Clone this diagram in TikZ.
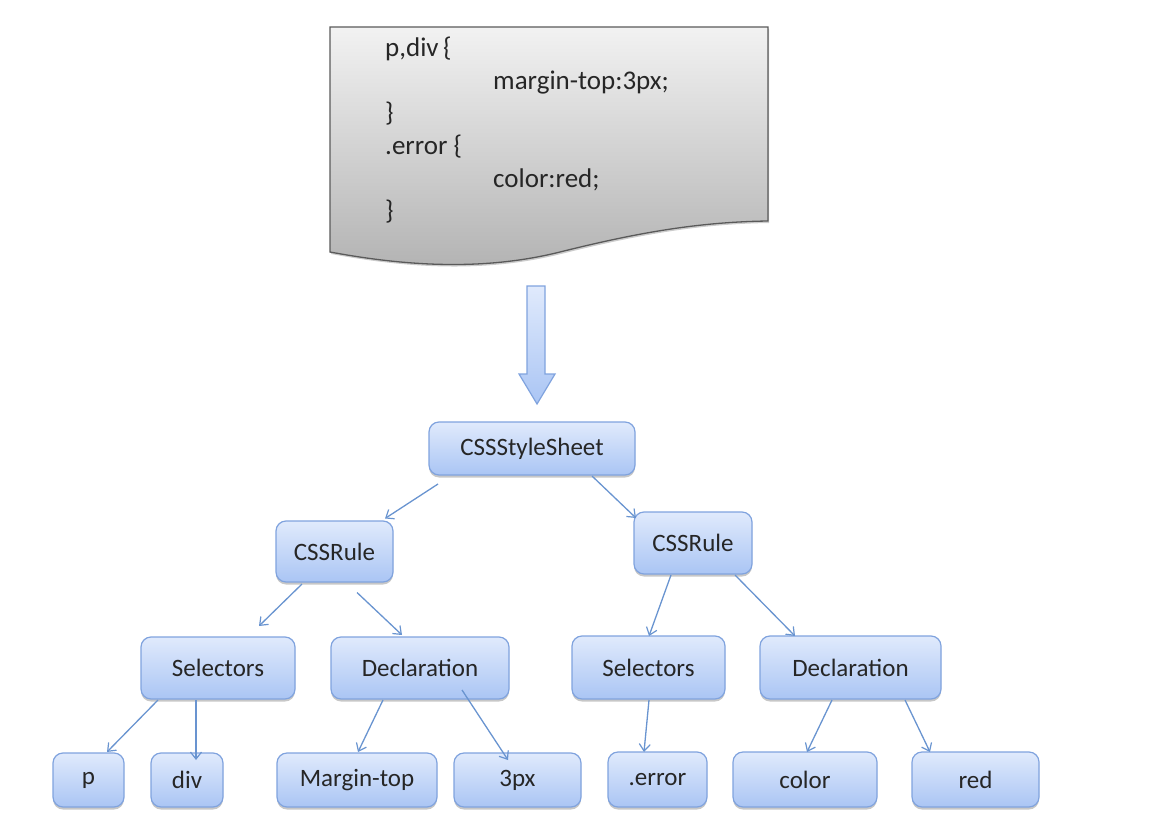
\documentclass[tikz,border=0pt]{standalone}
\usepackage{fontspec}
\setmainfont{Carlito}
\usetikzlibrary{calc,arrows.meta,shadows}

\definecolor{txt}{RGB}{38,38,38}
\definecolor{boxtop}{RGB}{224,234,252}
\definecolor{boxbot}{RGB}{170,197,244}
\definecolor{boxline}{RGB}{128,163,222}
\definecolor{edgeblue}{RGB}{105,148,208}
\definecolor{doctop}{RGB}{242,242,242}
\definecolor{docbot}{RGB}{178,178,178}
\definecolor{docline}{RGB}{90,90,90}

\tikzset{
  treebox/.style={draw=boxline, line width=1.2pt, rounded corners=10pt,
    top color=boxtop, bottom color=boxbot, inner sep=0pt,
    text=txt, font=\fontsize{25}{30}\selectfont,
    drop shadow={shadow xshift=0pt, shadow yshift=-2.5pt, opacity=0.22, fill=black}},
  edge/.style={draw=edgeblue, line width=1.3pt,
    -{Straight Barb[length=7pt,width=11pt,line width=1.2pt]}},
  codeline/.style={anchor=base west, inner sep=0pt, text=txt,
    font=\fontsize{27}{32}\selectfont},
}

\newcommand{\tbox}[6]{% name, text, left, right, top, bottom
  \node[treebox, minimum width={(#4-#3)*1pt}, minimum height={(#6-#5)*1pt}]
    (#1) at ({(#3+#4)/2},{(#5+#6)/2}) {#2};}

\begin{document}
\begin{tikzpicture}[x=1pt, y=-1pt]
\useasboundingbox (0,0) rectangle (1158,826);

% stylesheet page with a wavy lower edge
\path[draw=docline, line width=1.3pt, top color=doctop, bottom color=docbot,
      drop shadow={shadow xshift=1pt, shadow yshift=-2pt, opacity=0.2, fill=black}]
  (330,27) -- (768,27) -- (768,221)
  .. controls (700,222) and (640,232) .. (560,252)
  .. controls (480,272) and (400,265) .. (330,252) -- cycle;

\node[codeline] (l1) at (385,57)  {p,div\,\{};
\node[codeline] (l2) at (493,90)  {margin-top:3px;};
\node[codeline] (l3) at (385,122) {\}};
\node[codeline] (l4) at (385,155) {.error \{};
\node[codeline] (l5) at (493,188) {color:red;};
\node[codeline] (l6) at (385,220) {\}};

% block arrow
\path[draw=boxline, line width=1.2pt, top color=boxtop, bottom color=boxbot]
  (527,286) -- (545,286) -- (545,374) -- (555,374) -- (537,404)
  -- (519,374) -- (527,374) -- cycle;

% tree
\tbox{ss}{CSSStyleSheet}{429}{635}{422}{475}
\tbox{ruleL}{CSSRule}{276}{393}{521}{582}
\tbox{ruleR}{CSSRule}{634}{752}{512}{574}
\tbox{selL}{Selectors}{141}{295}{637}{699}
\tbox{decL}{Declaration}{331}{509}{637}{699}
\tbox{selR}{Selectors}{572}{725}{636}{699}
\tbox{decR}{Declaration}{760}{941}{636}{699}
\tbox{p}{p}{53}{124}{753}{807}
\tbox{div}{div}{151}{223}{753}{807}
\tbox{mt}{Margin-top}{277}{437}{753}{807}
\tbox{px}{3px}{454}{581}{753}{807}
\tbox{err}{.error}{608}{707}{752}{807}
\tbox{col}{color}{733}{877}{752}{807}
\tbox{red}{red}{912}{1039}{752}{807}

\draw[edge] ($(ss)+(-94,35.5)$) -- ($(ruleL)+(50.5,-33)$);
\draw[edge] ($(ss)+(60,27.5)$) -- ($(ruleR)+(-57,-25)$);
\draw[edge] ($(ruleL)+(-32.5,32.5)$) -- ($(selL)+(41,-42)$);
\draw[edge] ($(ruleL)+(22.5,41)$) -- ($(decL)+(-18,-33)$);
\draw[edge] ($(ruleR)+(-22,32)$) -- ($(selR)+(0.5,-31.5)$);
\draw[edge] ($(ruleR)+(42,32)$) -- ($(decR)+(-55.5,-31.5)$);
\draw[edge] ($(selL)+(-60,32)$) -- ($(p)+(18.5,-28)$);
\draw[edge] ($(selL)+(-22,32)$) -- ($(div)+(9,-20)$);
\draw[edge] ($(decL)+(-37,32)$) -- ($(mt)+(1,-28)$);
\draw[edge] ($(decL)+(42,22)$) -- ($(px)+(-9.5,-20)$);
\draw[edge] ($(selR)+(0.5,32.5)$) -- ($(err)+(-13.5,-27.5)$);
\draw[edge] ($(decR)+(-18.5,32.5)$) -- ($(col)+(2,-27.5)$);
\draw[edge] ($(decR)+(54.5,32.5)$) -- ($(red)+(-45.5,-27.5)$);
\end{tikzpicture}
\end{document}
